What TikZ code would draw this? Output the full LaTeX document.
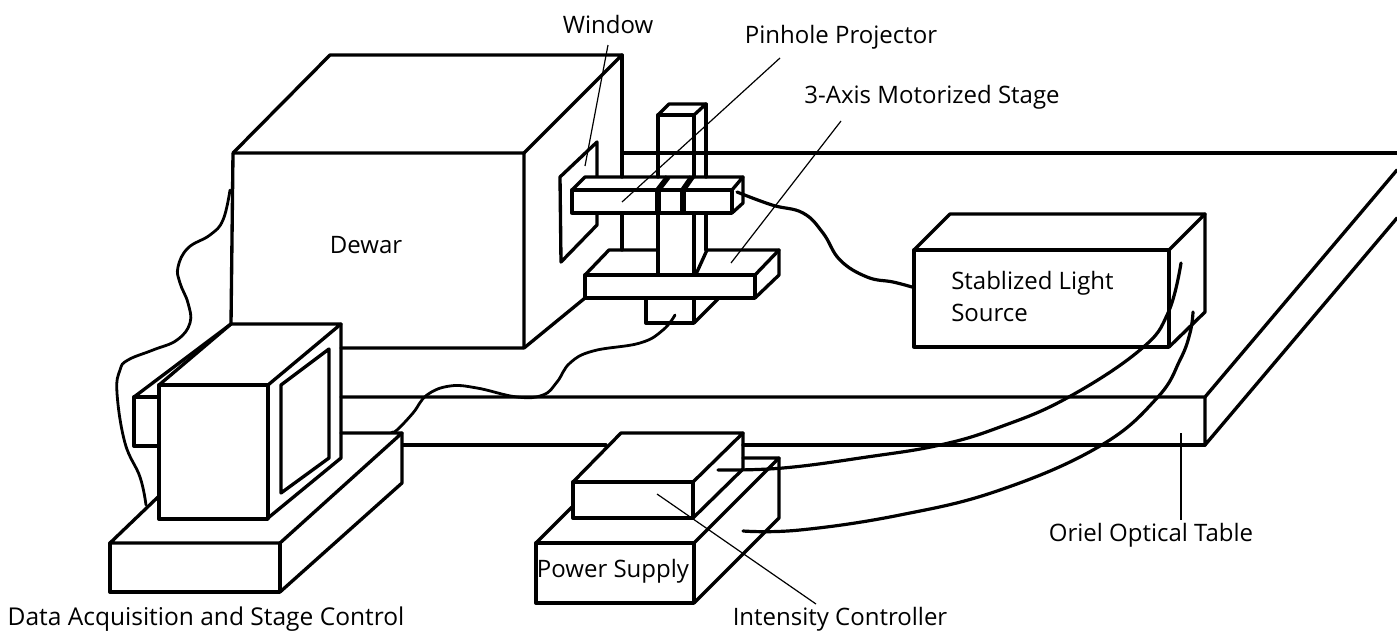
\documentclass[tikz,border=0pt]{standalone}
\usepackage{fontspec}
\setmainfont{Open Sans}
\tikzset{
  x=0.75pt,y=-0.75pt,
  edge/.style={line width=2.5pt,line join=round,line cap=round},
  cable/.style={line width=2.4pt,line cap=round},
  thincable/.style={line width=2.1pt,line cap=round},
  band/.style={line width=4.2pt},
  leader/.style={line width=0.9pt},
  lab/.style={inner sep=0pt,font=\fontsize{18}{24}\selectfont,text=black}
}
\begin{document}
\begin{tikzpicture}
\useasboundingbox (0,0) rectangle (1397,632);
% Dewar
\draw[edge] (231,324) -- (233,153) -- (524,153) -- (524,348) -- (341,348);
\draw[edge] (233,153) -- (330,55) -- (622,55) -- (524,153);
\draw[edge] (622,55) -- (622,177);
\draw[edge] (622,213) -- (622,250);
\draw[edge] (524,348) -- (585,298);
% Window
\draw[edge] (597,176) -- (597,142) -- (560,177) -- (561,262) -- (597,225) -- (597,213);
% Table
\draw[edge] (622,153) -- (1397,153);
\draw[edge] (341,397) -- (1205,397) -- (1397,170);
\draw[edge] (1205,397) -- (1205,445) -- (1397,218);
\draw[edge] (743,445) -- (1205,445);
\draw[edge] (403,445) -- (606,445);
\draw[edge] (159,397) -- (134,397) -- (134,446) -- (159,446);
\draw[edge] (134,397) -- (231,324);
% Monitor
\draw[edge] (159,519) rectangle (268,385);
\draw[edge] (159,385) -- (231,324) -- (341,324) -- (268,385);
\draw[edge] (341,324) -- (341,458) -- (268,518);
\draw[edge] (281,385) -- (329,349) -- (329,458) -- (281,493) -- cycle;
% Monitor base
\draw[edge] (158,497) -- (110,543) -- (280,543) -- (402,433) -- (341,433);
\draw[edge] (110,543) -- (110,592) -- (280,592) -- (280,543);
\draw[edge] (280,592) -- (402,483) -- (402,433);
% Post
\draw[edge] (658,177) -- (658,115) -- (694,115) -- (694,177);
\draw[edge] (658,115) -- (669,104) -- (706,104) -- (694,115);
\draw[edge] (706,104) -- (706,177);
\draw[edge] (658,213) -- (658,274);
\draw[edge] (694,213) -- (694,274);
\draw[edge] (706,213) -- (706,250);
% Arm
\draw[edge] (572,190) rectangle (732,213);
\draw[edge] (572,190) -- (585,177) -- (743,177) -- (732,190);
\draw[edge] (743,177) -- (743,203) -- (732,213);
\draw[band] (658,213) -- (658,190) -- (668,177);
\draw[band] (683,213) -- (683,190) -- (692,177);
% Stage plate
\draw[edge] (585,275) rectangle (755,298);
\draw[edge] (585,275) -- (609,250) -- (658,250);
\draw[edge] (697,272) -- (707,250) -- (779,250) -- (755,275);
\draw[edge] (779,250) -- (779,275) -- (755,298);
\draw[edge] (646,299) -- (646,323) -- (694,323) -- (694,299);
\draw[edge] (694,323) -- (718,299);
% Light source
\draw[edge] (914,250) rectangle (1169,347);
\draw[edge] (914,250) -- (950,214) -- (1205,214) -- (1169,250);
\draw[edge] (1205,214) -- (1205,312) -- (1169,347);
% Intensity controller
\draw[edge] (573,482) rectangle (693,518);
\draw[edge] (573,482) -- (621,433) -- (743,433) -- (693,482);
\draw[edge] (743,433) -- (743,469) -- (693,518);
% Power supply
\draw[edge] (536,543) rectangle (694,603);
\draw[edge] (536,543) -- (572,507);
\draw[edge] (694,543) -- (779,458) -- (743,458);
\draw[edge] (779,458) -- (779,518) -- (694,603);
% Cables
\draw[thincable] plot[smooth,tension=0.7] coordinates {(146,505) (140,477) (125,443) (117,393) (120,370) (128,360) (153,350) (177,340) (190,323) (188,303) (180,283) (178,267) (188,248) (210,235) (223,220) (230,190)};
\draw[thincable] plot[smooth,tension=0.7] coordinates {(392,432) (397,430) (413,413) (427,395) (450,386) (477,388) (517,397) (543,395) (557,382) (570,363) (593,351) (640,343) (663,330) (675,315)};
\draw[cable] plot[smooth,tension=0.7] coordinates {(737,192) (772,205) (803,213) (823,233) (840,260) (867,277) (893,282) (912,287)};
\draw[cable] plot[smooth,tension=0.7] coordinates {(718,470) (783,468) (867,457) (940,445) (1000,427) (1067,398) (1140,350) (1168,313) (1181,263)};
\draw[cable] plot[smooth,tension=0.7] coordinates {(743,531) (800,530) (900,515) (1000,490) (1100,446) (1157,398) (1180,360) (1190,333) (1193,312)};
% Labels
\node[lab] (window) at (608,24) {Window};
\node[lab] (pinhole) at (841,37) {Pinhole Projector};
\node[lab] (stage) at (932,97) {3-Axis Motorized Stage};
\node[lab] (dewar) at (366,245) {Dewar};
\node[lab,align=left,anchor=west] (light) at (951,296) {Stablized Light\\Source};
\node[lab] (oriel) at (1151,535) {Oriel Optical Table};
\node[lab] (power) at (613,571) {Power Supply};
\node[lab] (intensity) at (840,619) {Intensity Controller};
\node[lab,font=\fontsize{18.4}{24}\selectfont] (daq) at (206,619) {Data Acquisition and Stage Control};
% Leaders
\coordinate (wt) at (585,166);
\coordinate (pt) at (622,202);
\coordinate (st) at (731,263);
\coordinate (ot) at (1181,433);
\coordinate (it) at (657,494);
\draw[leader] (608,45) -- (wt);
\draw[leader] (780,58) -- (pt);
\draw[leader] (841,121) -- (st);
\draw[leader] (1181,520) -- (ot);
\draw[leader] (816,604) -- (it);
\end{tikzpicture}
\end{document}
